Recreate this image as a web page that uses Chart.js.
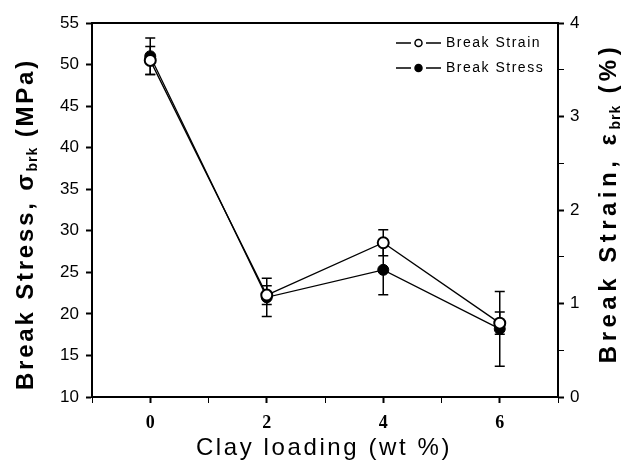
<!DOCTYPE html>
<html>
<head>
<meta charset="utf-8">
<script src="https://cdn.jsdelivr.net/npm/chart.js@4.4.0/dist/chart.umd.min.js"></script>
<style>
  html, body { margin: 0; padding: 0; background: #fff; }
  #wrap { width: 622px; height: 461px; }
</style>
</head>
<body>
<div id="wrap"><canvas id="breakChart" width="622" height="461"></canvas></div>
<script>
// values
const clayLoading = [0, 2, 4, 6];
const breakStress = [51.0, 22.0, 25.3, 18.2];      // MPa, left axis
const breakStressErr = [2.2, 2.3, 3.0, 4.5];
const breakStrain = [3.6, 1.09, 1.65, 0.79];       // %, right axis
const breakStrainErr = [0.15, 0.1, 0.14, 0.12];
const xTickLabels = [0, 2, 4, 6];
const stressTickLabels = [10, 15, 20, 25, 30, 35, 40, 45, 50, 55];
const strainTickLabels = [0, 1, 2, 3, 4];

const toPoints = (ys) => clayLoading.map((x, i) => ({ x: x, y: ys[i] }));

// vertical error bars, drawn under the markers
const errorBars = {
  id: 'errorBars',
  beforeDatasetsDraw(chart) {
    const ctx = chart.ctx;
    const xs = chart.scales.x;
    chart.data.datasets.forEach(ds => {
      const ys = chart.scales[ds.yAxisID];
      ctx.save();
      ctx.strokeStyle = '#000';
      ctx.lineWidth = 1.5;
      ds.data.forEach((p, j) => {
        const e = ds.errors[j];
        const px = xs.getPixelForValue(p.x);
        const top = ys.getPixelForValue(p.y + e);
        const bot = ys.getPixelForValue(p.y - e);
        ctx.beginPath();
        ctx.moveTo(px, top); ctx.lineTo(px, bot);
        ctx.moveTo(px - 5, top); ctx.lineTo(px + 5, top);
        ctx.moveTo(px - 5, bot); ctx.lineTo(px + 5, bot);
        ctx.stroke();
      });
      ctx.restore();
    });
  }
};

// box around the plot + legend + axis titles with subscripts
function drawRich(ctx, parts, cx, cy, angle) {
  ctx.save();
  ctx.translate(cx, cy);
  ctx.rotate(angle);
  ctx.textBaseline = 'middle';
  ctx.textAlign = 'left';
  let total = 0;
  parts.forEach(p => {
    ctx.font = p.font;
    ctx.letterSpacing = p.ls || '0px';
    p.w = ctx.measureText(p.t).width;
    total += p.w;
  });
  let x = -total / 2;
  parts.forEach(p => {
    ctx.font = p.font;
    ctx.letterSpacing = p.ls || '0px';
    ctx.fillText(p.t, x, p.dy || 0);
    x += p.w;
  });
  ctx.restore();
}

const decorations = {
  id: 'decorations',
  afterDraw(chart) {
    const ctx = chart.ctx;
    const a = chart.chartArea;
    ctx.save();
    ctx.strokeStyle = '#000';
    ctx.lineWidth = 2;
    ctx.strokeRect(a.left, a.top, a.right - a.left, a.bottom - a.top);

    // legend
    const items = [
      { label: 'Break Strain', fill: '#fff', y: a.top + 20 },
      { label: 'Break Stress', fill: '#000', y: a.top + 45 }
    ];
    items.forEach(it => {
      const lx = a.right - 162;
      ctx.beginPath();
      ctx.lineWidth = 1.5;
      ctx.moveTo(lx, it.y); ctx.lineTo(lx + 15, it.y);
      ctx.moveTo(lx + 30, it.y); ctx.lineTo(lx + 45, it.y);
      ctx.stroke();
      ctx.beginPath();
      ctx.arc(lx + 22.5, it.y, 3.5, 0, Math.PI * 2);
      ctx.fillStyle = it.fill;
      ctx.fill();
      ctx.lineWidth = 1.5;
      ctx.stroke();
      ctx.fillStyle = '#000';
      ctx.font = '14px "Liberation Sans", Arial, sans-serif';
      ctx.letterSpacing = '1.5px';
      ctx.textBaseline = 'middle';
      ctx.textAlign = 'left';
      ctx.fillText(it.label, lx + 50, it.y);
    });
    ctx.restore();

    ctx.fillStyle = '#000';
    const big = 'bold 24px "Liberation Sans", Arial, sans-serif';
    const sub = 'bold 14px "Liberation Sans", Arial, sans-serif';
    drawRich(ctx, [
      { t: 'Break Stress, \u03c3', font: big, ls: '2.8px' },
      { t: 'brk', font: sub, dy: 7, ls: '1px' },
      { t: ' (MPa)', font: big, ls: '2.8px' }
    ], 26, 224, -Math.PI / 2);
    drawRich(ctx, [
      { t: 'Break Strain, \u03b5', font: big, ls: '4.5px' },
      { t: 'brk', font: sub, dy: 7, ls: '1px' },
      { t: ' (%)', font: big, ls: '4.5px' }
    ], 609, 203, -Math.PI / 2);
    drawRich(ctx, [
      { t: 'Clay loading (wt %)', font: '24px "Liberation Sans", Arial, sans-serif', ls: '2.6px' }
    ], 324, 448, 0);
  }
};

const tickFont = { family: '"Liberation Sans", Arial, sans-serif', size: 17 };

new Chart(document.getElementById('breakChart'), {
  type: 'line',
  data: {
    datasets: [
      {
        label: 'Break Strain',
        data: toPoints(breakStrain),
        errors: breakStrainErr,
        yAxisID: 'y1',
        borderColor: '#000',
        borderWidth: 1.3,
        pointRadius: 5.5,
        pointBackgroundColor: '#fff',
        pointBorderColor: '#000',
        pointBorderWidth: 2,
        tension: 0
      },
      {
        label: 'Break Stress',
        data: toPoints(breakStress),
        errors: breakStressErr,
        yAxisID: 'y',
        borderColor: '#000',
        borderWidth: 1.3,
        pointRadius: 5.5,
        pointBackgroundColor: '#000',
        pointBorderColor: '#000',
        pointBorderWidth: 1,
        tension: 0
      }
    ]
  },
  options: {
    responsive: false,
    animation: false,
    layout: { padding: { top: 23, left: 0, right: 0, bottom: 0 } },
    plugins: {
      legend: { display: false },
      tooltip: { enabled: false }
    },
    scales: {
      x: {
        type: 'linear',
        position: 'bottom',
        min: -1,
        max: 7,
        afterFit: s => { s.height = 64; },
        ticks: {
          stepSize: 1,
          color: '#000',
          padding: 10,
          font: { family: '"Liberation Serif", "Times New Roman", serif', size: 18, weight: 'bold' },
          callback: v => xTickLabels.includes(v) ? String(v) : ''
        },
        grid: {
          drawOnChartArea: false,
          tickLength: 6,
          tickColor: '#000',
          tickWidth: c => xTickLabels.includes(c.tick && c.tick.value) ? 2 : 1
        },
        border: { color: '#000', width: 2 }
      },
      y: {
        position: 'left',
        min: 10,
        max: 55,
        afterFit: s => { s.width = 92; },
        ticks: {
          stepSize: 2.5,
          color: '#000',
          padding: 7,
          font: tickFont,
          callback: v => stressTickLabels.includes(v) ? String(v) : ''
        },
        grid: {
          drawOnChartArea: false,
          tickLength: 6,
          tickColor: '#000',
          tickWidth: c => stressTickLabels.includes(c.tick && c.tick.value) ? 2 : 1
        },
        border: { color: '#000', width: 2 }
      },
      y1: {
        position: 'right',
        min: 0,
        max: 4,
        afterFit: s => { s.width = 64; },
        ticks: {
          stepSize: 0.5,
          color: '#000',
          padding: 6,
          font: tickFont,
          callback: v => strainTickLabels.includes(v) ? String(v) : ''
        },
        grid: {
          drawOnChartArea: false,
          tickLength: 6,
          tickColor: '#000',
          tickWidth: c => strainTickLabels.includes(c.tick && c.tick.value) ? 2 : 1
        },
        border: { color: '#000', width: 2 }
      }
    }
  },
  plugins: [errorBars, decorations]
});
</script>
</body>
</html>
